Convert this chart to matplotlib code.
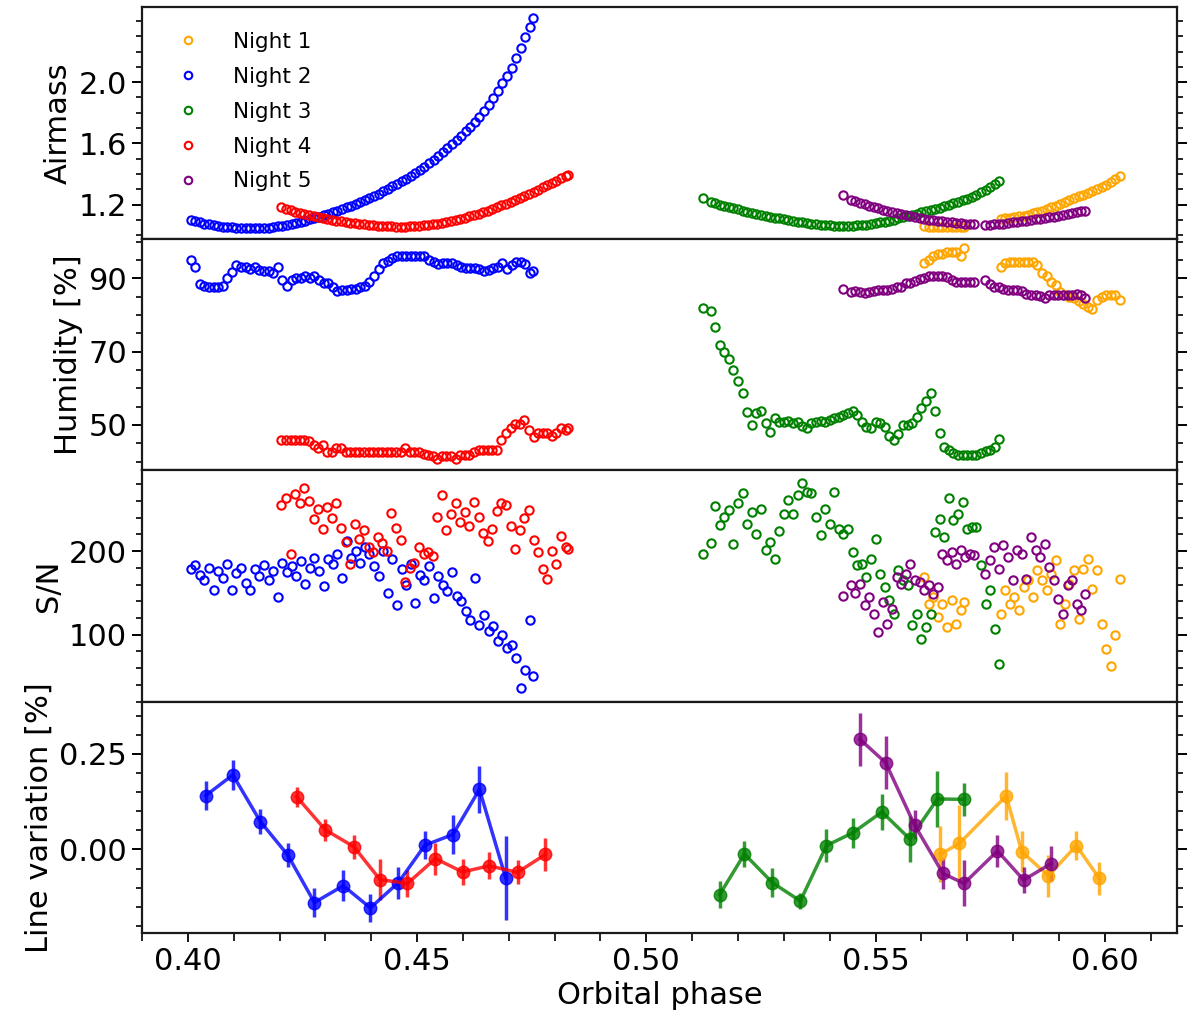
import matplotlib
matplotlib.use('Agg')
import matplotlib.pyplot as plt
from matplotlib.ticker import MultipleLocator, FormatStrFormatter

# ---- night 1 (orange) ----
night1_phase = [0.5606, 0.5616, 0.5626, 0.5636, 0.5646, 0.5656, 0.5666, 0.5676, 0.5686, 0.5693,
                0.5773, 0.5783, 0.5793, 0.5803, 0.5813, 0.5823, 0.5833, 0.5843, 0.5853, 0.5863,
                0.5873, 0.5883, 0.5893, 0.5903, 0.5913, 0.5923, 0.5933, 0.5943, 0.5953, 0.5963,
                0.5973, 0.5983, 0.5993, 0.6003, 0.6013, 0.6023, 0.6033]
night1_airmass = [1.058, 1.056, 1.054, 1.053, 1.052, 1.052, 1.052, 1.053, 1.054, 1.055,
                  1.108, 1.111, 1.114, 1.118, 1.122, 1.127, 1.133, 1.142, 1.151, 1.161,
                  1.171, 1.182, 1.193, 1.205, 1.217, 1.229, 1.241, 1.253, 1.265, 1.277,
                  1.290, 1.302, 1.316, 1.331, 1.348, 1.366, 1.388]
night1_humidity = [94.1, 95.0, 96.0, 96.7, 96.7, 97.1, 97.1, 97.1, 96.0, 98.3,
                   93.0, 94.1, 94.3, 94.3, 94.3, 94.3, 94.3, 94.3, 93.5, 91.5,
                   90.5, 89.0, 88.2, 86.3, 85.5, 85.0, 84.5, 83.8, 83.0, 82.3,
                   81.7, 84.0, 84.9, 85.4, 85.4, 85.4, 84.0]
night1_snr = [169, 137, 145, 121, 137, 109, 141, 113, 129, 139,
              125, 153, 137, 145, 129, 157, 165, 145, 177, 165,
              153, 173, 189, 113, 137, 161, 177, 119, 179, 191,
              155, 177, 113, 83, 63, 100, 167]

# ---- night 2 (blue) ----
night2_phase = [0.4006, 0.4016, 0.4026, 0.4036, 0.4046, 0.4056, 0.4066, 0.4076, 0.4086, 0.4096,
                0.4106, 0.4116, 0.4126, 0.4136, 0.4146, 0.4156, 0.4166, 0.4176, 0.4186, 0.4196,
                0.4206, 0.4216, 0.4226, 0.4236, 0.4246, 0.4256, 0.4266, 0.4276, 0.4286, 0.4296,
                0.4306, 0.4316, 0.4326, 0.4336, 0.4346, 0.4356, 0.4366, 0.4376, 0.4386, 0.4396,
                0.4406, 0.4416, 0.4426, 0.4436, 0.4446, 0.4456, 0.4466, 0.4476, 0.4486, 0.4496,
                0.4506, 0.4516, 0.4526, 0.4536, 0.4546, 0.4556, 0.4566, 0.4576, 0.4586, 0.4596,
                0.4606, 0.4616, 0.4626, 0.4636, 0.4646, 0.4656, 0.4666, 0.4676, 0.4686, 0.4696,
                0.4706, 0.4716, 0.4726, 0.4736, 0.4746, 0.4753]
night2_airmass = [1.100, 1.091, 1.083, 1.076, 1.070, 1.065, 1.060, 1.056, 1.053, 1.050,
                  1.048, 1.046, 1.045, 1.045, 1.045, 1.046, 1.047, 1.049, 1.053, 1.057,
                  1.062, 1.067, 1.073, 1.080, 1.087, 1.095, 1.103, 1.111, 1.120, 1.129,
                  1.139, 1.149, 1.159, 1.170, 1.181, 1.193, 1.205, 1.218, 1.231, 1.244,
                  1.258, 1.272, 1.287, 1.302, 1.318, 1.334, 1.351, 1.368, 1.386, 1.405,
                  1.425, 1.447, 1.470, 1.494, 1.518, 1.543, 1.569, 1.595, 1.622, 1.650,
                  1.680, 1.710, 1.742, 1.775, 1.810, 1.853, 1.898, 1.945, 1.992, 2.041,
                  2.093, 2.155, 2.225, 2.295, 2.362, 2.420]
night2_humidity = [95.1, 93.0, 88.5, 87.8, 87.5, 87.5, 87.5, 87.8, 90.0, 91.8,
                   93.5, 93.0, 93.0, 92.5, 93.0, 92.3, 92.0, 92.0, 91.5, 93.2,
                   89.5, 88.0, 89.5, 90.0, 90.0, 90.5, 90.0, 90.5, 89.5, 88.6,
                   88.8, 87.7, 86.5, 86.8, 86.8, 87.0, 87.0, 87.5, 88.0, 89.0,
                   90.5, 92.5, 94.1, 94.8, 95.6, 96.2, 96.2, 96.2, 96.2, 96.2,
                   96.2, 96.0, 95.0, 94.5, 94.0, 94.1, 94.1, 94.1, 93.5, 93.0,
                   92.8, 92.8, 92.8, 92.5, 92.0, 92.3, 92.8, 93.0, 94.1, 92.5,
                   93.5, 94.3, 94.3, 93.8, 91.4, 92.0]
night2_snr = [178, 183, 172, 165, 180, 153, 176, 168, 185, 153,
              174, 180, 162, 154, 178, 170, 183, 165, 176, 145,
              186, 175, 182, 170, 188, 161, 180, 192, 176, 158,
              190, 184, 196, 168, 212, 192, 200, 186, 205, 197,
              182, 170, 200, 150, 190, 135, 178, 160, 185, 138,
              172, 165, 182, 144, 170, 160, 152, 175, 146, 140,
              128, 118, 168, 112, 124, 104, 110, 92, 100, 84,
              88, 72, 36, 58, 118, 50]

# ---- night 3 (green) ----
night3_phase = [0.5124,
                0.5140, 0.5150, 0.5160, 0.5170, 0.5180, 0.5190, 0.5200, 0.5210, 0.5220, 0.5230,
                0.5240, 0.5250, 0.5260, 0.5270, 0.5280, 0.5290, 0.5300, 0.5310, 0.5320, 0.5330,
                0.5340, 0.5350, 0.5360, 0.5370, 0.5380, 0.5390, 0.5400, 0.5410, 0.5420, 0.5430,
                0.5440, 0.5450, 0.5460, 0.5470, 0.5480, 0.5490, 0.5500, 0.5510, 0.5520, 0.5530,
                0.5540, 0.5550, 0.5560, 0.5570, 0.5580, 0.5590, 0.5600, 0.5610, 0.5620, 0.5630,
                0.5640, 0.5650, 0.5660, 0.5670, 0.5680, 0.5690, 0.5700, 0.5710, 0.5720, 0.5730,
                0.5740, 0.5750, 0.5760, 0.5770]
night3_airmass = [1.242,
                  1.216, 1.208, 1.200, 1.192, 1.184, 1.176, 1.168, 1.161, 1.154, 1.147,
                  1.140, 1.133, 1.127, 1.121, 1.115, 1.109, 1.103, 1.098, 1.093, 1.088,
                  1.083, 1.079, 1.075, 1.071, 1.068, 1.065, 1.063, 1.061, 1.060, 1.060,
                  1.060, 1.061, 1.063, 1.066, 1.069, 1.073, 1.078, 1.083, 1.089, 1.095,
                  1.102, 1.109, 1.117, 1.125, 1.133, 1.141, 1.148, 1.155, 1.163, 1.171,
                  1.179, 1.188, 1.197, 1.207, 1.217, 1.228, 1.239, 1.250, 1.264, 1.280,
                  1.298, 1.315, 1.333, 1.351]
night3_humidity = [82.0,
                   81.0, 76.8, 71.9, 69.8, 67.9, 64.9, 62.0, 58.7, 53.5, 50.0,
                   53.2, 53.7, 50.5, 48.2, 51.8, 50.9, 50.9, 51.2, 50.5, 50.9,
                   49.8, 49.1, 50.5, 50.9, 51.2, 50.9, 51.4, 51.8, 52.3, 52.6,
                   53.2, 53.7, 52.8, 50.9, 49.5, 49.1, 50.9, 50.5, 49.5, 47.0,
                   45.9, 47.5, 50.0, 50.0, 50.5, 52.3, 54.5, 56.4, 58.7, 53.7,
                   47.7, 44.0, 43.1, 42.4, 41.9, 41.9, 41.9, 41.9, 41.9, 42.4,
                   42.8, 43.1, 44.0, 46.1]
night3_snr = [196,
              210, 254, 231, 241, 249, 209, 257, 269, 233, 247,
              221, 251, 201, 211, 191, 224, 245, 261, 245, 267,
              281, 271, 269, 241, 219, 251, 233, 271, 227, 221,
              227, 199, 183, 185, 169, 191, 215, 173, 157, 141,
              125, 177, 165, 159, 111, 125, 95, 109, 125, 223,
              239, 217, 263, 237, 245, 259, 227, 229, 229, 183,
              137, 153, 107, 65]

# ---- night 4 (red) ----
night4_phase = [0.4204, 0.4214, 0.4224, 0.4234, 0.4244, 0.4254, 0.4264, 0.4274, 0.4284, 0.4294,
                0.4304, 0.4314, 0.4324, 0.4334, 0.4344, 0.4354, 0.4364, 0.4374, 0.4384, 0.4394,
                0.4404, 0.4414, 0.4424, 0.4434, 0.4444, 0.4454, 0.4464, 0.4474, 0.4484, 0.4494,
                0.4504, 0.4514, 0.4524, 0.4534, 0.4544, 0.4554, 0.4564, 0.4574, 0.4584, 0.4594,
                0.4604, 0.4614, 0.4624, 0.4634, 0.4644, 0.4654, 0.4664, 0.4674, 0.4684, 0.4694,
                0.4704, 0.4714, 0.4724, 0.4734, 0.4744, 0.4754, 0.4764, 0.4774, 0.4784, 0.4794,
                0.4804, 0.4814, 0.4824, 0.4830]
night4_airmass = [1.182, 1.172, 1.163, 1.154, 1.146, 1.139, 1.132, 1.125, 1.118, 1.112,
                  1.106, 1.100, 1.095, 1.090, 1.085, 1.081, 1.077, 1.073, 1.070, 1.067,
                  1.064, 1.062, 1.060, 1.058, 1.057, 1.056, 1.056, 1.056, 1.057, 1.059,
                  1.061, 1.064, 1.067, 1.071, 1.075, 1.080, 1.086, 1.092, 1.099, 1.106,
                  1.114, 1.122, 1.131, 1.140, 1.150, 1.160, 1.171, 1.182, 1.194, 1.206,
                  1.218, 1.231, 1.244, 1.257, 1.270, 1.284, 1.298, 1.312, 1.327, 1.342,
                  1.357, 1.372, 1.387, 1.396]
night4_humidity = [45.9, 45.9, 45.9, 45.9, 45.9, 45.9, 45.5, 44.5, 43.6, 44.6,
                   42.6, 42.6, 43.6, 43.6, 42.6, 42.6, 42.6, 42.6, 42.6, 42.6,
                   42.6, 42.6, 42.6, 42.6, 42.6, 42.6, 42.6, 43.8, 42.6, 42.6,
                   42.6, 42.0, 41.7, 41.5, 40.6, 41.5, 41.5, 41.5, 40.6, 41.9,
                   41.9, 41.9, 42.6, 43.1, 43.1, 43.1, 43.1, 43.1, 45.9, 47.7,
                   49.1, 50.2, 50.2, 51.4, 48.6, 46.8, 47.9, 47.9, 47.9, 47.0,
                   47.9, 49.1, 48.6, 49.1]
night4_snr = [255, 263, 197, 268, 258, 275, 260, 238, 250, 226,
              253, 240, 257, 228, 211, 185, 232, 215, 225, 205,
              199, 217, 210, 200, 246, 228, 213, 163, 180, 186,
              205, 197, 199, 194, 241, 267, 225, 245, 257, 235,
              247, 230, 259, 241, 222, 212, 227, 248, 257, 255,
              230, 203, 225, 240, 249, 213, 199, 178, 167, 200,
              185, 218, 205, 203]

# ---- night 5 (purple) ----
night5_phase = [0.5430, 0.5446, 0.5456, 0.5466, 0.5476, 0.5486, 0.5496, 0.5506, 0.5516, 0.5526,
                0.5536, 0.5546, 0.5556, 0.5566, 0.5576, 0.5586, 0.5596, 0.5606, 0.5616, 0.5626,
                0.5636, 0.5646, 0.5656, 0.5666, 0.5676, 0.5686, 0.5696, 0.5706, 0.5714,
                0.5739, 0.5749, 0.5759, 0.5769, 0.5779, 0.5789, 0.5799, 0.5809, 0.5819, 0.5829,
                0.5839, 0.5849, 0.5859, 0.5869, 0.5879, 0.5889, 0.5899, 0.5909, 0.5919, 0.5929,
                0.5939, 0.5949, 0.5956]
night5_airmass = [1.262, 1.232, 1.222, 1.212, 1.202, 1.193, 1.184, 1.175, 1.167, 1.159,
                  1.151, 1.144, 1.137, 1.130, 1.124, 1.118, 1.112, 1.106, 1.101, 1.096,
                  1.093, 1.090, 1.086, 1.083, 1.080, 1.077, 1.075, 1.073, 1.072,
                  1.068, 1.069, 1.071, 1.073, 1.076, 1.079, 1.083, 1.087, 1.091, 1.095,
                  1.099, 1.103, 1.107, 1.111, 1.116, 1.121, 1.126, 1.131, 1.137, 1.143,
                  1.149, 1.155, 1.159]
night5_humidity = [87.0, 86.3, 86.5, 86.3, 86.0, 86.3, 86.6, 86.8, 86.8, 86.8,
                   87.0, 87.5, 87.7, 88.6, 88.6, 89.3, 89.7, 90.2, 90.5, 90.5,
                   90.5, 90.5, 90.3, 89.5, 89.1, 89.1, 89.1, 89.1, 89.1,
                   89.4, 88.5, 87.7, 87.7, 87.0, 86.8, 86.8, 86.8, 86.5, 85.8,
                   85.4, 85.4, 85.2, 84.5, 85.4, 85.4, 85.4, 85.4, 85.4, 85.4,
                   85.8, 85.4, 84.7]
night5_snr = [146, 159, 150, 161, 135, 145, 125, 103, 139, 113,
              131, 169, 161, 173, 185, 165, 163, 153, 160, 149,
              157, 197, 189, 199, 185, 201, 193, 197, 195,
              173, 189, 205, 179, 207, 193, 165, 201, 197, 167,
              217, 201, 193, 209, 181, 165, 143, 125, 159, 165,
              137, 129, 149]

# ---- line variation (binned) ----
lv1_phase = [0.5641, 0.5683, 0.5785, 0.5819, 0.5877, 0.5938, 0.5988]
lv1_value = [-0.013, 0.016, 0.140, -0.006, -0.069, 0.010, -0.076]
lv1_error = [0.073, 0.100, 0.062, 0.053, 0.055, 0.038, 0.044]

lv2_phase = [0.4039, 0.4098, 0.4158, 0.4218, 0.4276, 0.4339, 0.4398, 0.4459, 0.4517, 0.4578, 0.4636, 0.4693]
lv2_value = [0.141, 0.195, 0.073, -0.015, -0.139, -0.095, -0.153, -0.087, 0.011, 0.039, 0.157, -0.074]
lv2_error = [0.038, 0.039, 0.033, 0.031, 0.039, 0.040, 0.036, 0.042, 0.036, 0.051, 0.062, 0.110]

lv3_phase = [0.5160, 0.5214, 0.5275, 0.5336, 0.5393, 0.5451, 0.5514, 0.5575, 0.5635, 0.5693]
lv3_value = [-0.118, -0.012, -0.087, -0.135, 0.010, 0.044, 0.098, 0.027, 0.132, 0.131]
lv3_error = [0.036, 0.035, 0.038, 0.021, 0.043, 0.039, 0.046, 0.061, 0.073, 0.043]

lv4_phase = [0.4237, 0.4300, 0.4362, 0.4419, 0.4479, 0.4540, 0.4599, 0.4657, 0.4719, 0.4780]
lv4_value = [0.138, 0.051, 0.007, -0.079, -0.089, -0.024, -0.059, -0.043, -0.060, -0.013]
lv4_error = [0.026, 0.028, 0.031, 0.053, 0.036, 0.042, 0.034, 0.035, 0.031, 0.044]

lv5_phase = [0.5466, 0.5522, 0.5585, 0.5647, 0.5693, 0.5766, 0.5823, 0.5883]
lv5_value = [0.288, 0.227, 0.064, -0.063, -0.089, -0.004, -0.080, -0.037]
lv5_error = [0.070, 0.069, 0.038, 0.041, 0.060, 0.043, 0.033, 0.046]

night_labels = ['Night 1', 'Night 2', 'Night 3', 'Night 4', 'Night 5']
night_colors = ['orange', 'blue', 'green', 'red', 'purple']

nights = [
    (night1_phase, night1_airmass, night1_humidity, night1_snr),
    (night2_phase, night2_airmass, night2_humidity, night2_snr),
    (night3_phase, night3_airmass, night3_humidity, night3_snr),
    (night4_phase, night4_airmass, night4_humidity, night4_snr),
    (night5_phase, night5_airmass, night5_humidity, night5_snr),
]
line_var = [
    (lv1_phase, lv1_value, lv1_error),
    (lv2_phase, lv2_value, lv2_error),
    (lv3_phase, lv3_value, lv3_error),
    (lv4_phase, lv4_value, lv4_error),
    (lv5_phase, lv5_value, lv5_error),
]


def style_axis(ax):
    for s in ax.spines.values():
        s.set_linewidth(1.6)
        s.set_color('#1a1a1a')
    ax.tick_params(axis='y', which='both', direction='out', left=True, right=True, labelsize=22)
    ax.tick_params(axis='y', which='major', length=7, width=1.4)
    ax.tick_params(axis='y', which='minor', length=4.5, width=1.2)
    ax.tick_params(axis='x', which='both', direction='out', bottom=True, top=False, labelsize=22)
    ax.tick_params(axis='x', which='major', length=6.5, width=1.3)
    ax.tick_params(axis='x', which='minor', length=5.5, width=1.2)


fig, axes = plt.subplots(4, 1, figsize=(12, 10.32), dpi=100, sharex=True)
fig.subplots_adjust(left=0.118, right=0.981, top=0.993, bottom=0.096, hspace=0)
ax_air, ax_hum, ax_snr, ax_lv = axes

for (ph, air, hum, snr), lab, col in zip(nights, night_labels, night_colors):
    ax_air.plot(ph, air, 'o', mfc='none', mec=col, ms=6, mew=1.5, ls='none', label=lab)
    ax_hum.plot(ph, hum, 'o', mfc='none', mec=col, ms=6, mew=1.5, ls='none')
    ax_snr.plot(ph, snr, 'o', mfc='none', mec=col, ms=6, mew=1.5, ls='none')

for (ph, val, err), col in zip(line_var, night_colors):
    ax_lv.errorbar(ph, val, yerr=err, fmt='-o', color=col, ms=9, lw=2.5,
                   elinewidth=2.5, capsize=0, alpha=0.8)

# airmass
ax_air.set_ylim(0.977, 2.49)
ax_air.set_yticks([1.2, 1.6, 2.0])
ax_air.yaxis.set_minor_locator(MultipleLocator(0.1))
ax_air.yaxis.set_major_formatter(FormatStrFormatter('%.1f'))
ax_air.set_ylabel('Airmass', fontsize=22)
ax_air.legend(loc='upper left', frameon=False, fontsize=15.5, handletextpad=1.1,
              labelspacing=0.69, borderaxespad=0.75, markerscale=0.9)

# humidity
ax_hum.set_ylim(37.7, 100.8)
ax_hum.set_yticks([50, 70, 90])
ax_hum.yaxis.set_minor_locator(MultipleLocator(5))
ax_hum.set_ylabel('Humidity [%]', fontsize=22)

# S/N
ax_snr.set_ylim(20, 297)
ax_snr.set_yticks([100, 200])
ax_snr.yaxis.set_minor_locator(MultipleLocator(20))
ax_snr.set_ylabel('S/N', fontsize=22)

# line variation
ax_lv.set_ylim(-0.2185, 0.387)
ax_lv.set_yticks([0.0, 0.25])
ax_lv.yaxis.set_minor_locator(MultipleLocator(0.05))
ax_lv.yaxis.set_major_formatter(FormatStrFormatter('%.2f'))
ax_lv.set_ylabel('Line variation [%]', fontsize=22)

ax_lv.set_xlim(0.3899, 0.6158)
ax_lv.xaxis.set_major_locator(MultipleLocator(0.05))
ax_lv.xaxis.set_minor_locator(MultipleLocator(0.01))
ax_lv.xaxis.set_major_formatter(FormatStrFormatter('%.2f'))
ax_lv.set_xlabel('Orbital phase', fontsize=22)

for ax in axes:
    style_axis(ax)

fig.savefig('out.png', dpi=100)
